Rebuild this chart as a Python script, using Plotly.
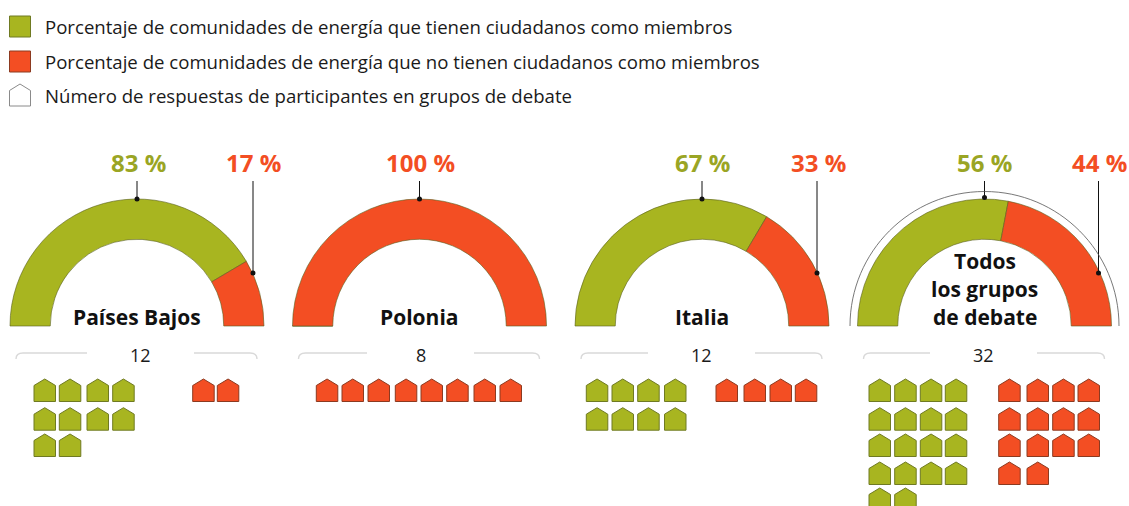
import plotly.graph_objects as go

W, H = 1129, 506
GREEN, RED = "#a8b520", "#f34e23"
GREEN_TEXT = "#9aa524"
GREEN_EDGE, RED_EDGE = "#6f7a22", "#8c3a20"

legend_labels = [
    "Porcentaje de comunidades de energía que tienen ciudadanos como miembros",
    "Porcentaje de comunidades de energía que no tienen ciudadanos como miembros",
    "Número de respuestas de participantes en grupos de debate",
]
groups = ["Países Bajos", "Polonia", "Italia", "Todos<br>los grupos<br>de debate"]
pct_with = [83, 0, 67, 56]
pct_without = [17, 100, 33, 44]
responses = [12, 8, 12, 32]
count_with = [10, 0, 8, 18]
count_without = [2, 8, 4, 14]

# layout only
centers = [137, 419.5, 702, 984.5]
CY, R, HOLE = 326, 127, 0.683
green_cols = [[34, 59.3, 87, 112.7], [], [586.3, 612, 637.7, 664.5], [869, 894.7, 920.3, 945.3]]
red_cols = [[192.7, 217.3], [316.3, 342, 368, 395.3, 421, 446.7, 474, 500], [716, 744, 770, 795.3],
            [998.7, 1027, 1052.7, 1078]]
row_tops = [379, 407.7, 434, 462, 488]
red_leader_x = [253, None, 817, 1098.5]
green_label_x = [138.5, None, 702, 984.5]
red_label_x = [253.5, 420.5, 818.5, 1099]
bracket_gap = [(-50, 57), (-52.5, 54.5), (-54, 53), (-54.5, 52.5)]
count_x = [140.5, 420.5, 701.5, 983.5]
FONT = "Open Sans"

fig = go.Figure()
shapes, annos = [], []


def house(x, top, w=21.5, h=22.5):
    s = 6.5
    return [x, x, x + w / 2, x + w, x + w, x, None], [top + h, top + s, top, top + s, top + h, top + h, None]


def add_houses(count, cols, color, edge):
    xs, ys = [], []
    for i in range(count):
        hx, hy = house(cols[i % len(cols)], row_tops[i // len(cols)])
        xs += hx
        ys += hy
    if xs:
        fig.add_trace(go.Scatter(x=xs, y=ys, mode="lines", fill="toself", fillcolor=color,
                                 line=dict(color=edge, width=1), hoverinfo="skip", showlegend=False))


def text(x, y, s, size, color="#1a1a1a", bold=False, anchor="center"):
    annos.append(dict(x=x, y=y, text=f"<b>{s}</b>" if bold else s, showarrow=False, xref="x", yref="y",
                      xanchor=anchor, yanchor="middle", align="center",
                      font=dict(family=FONT, size=size, color=color)))


def leader(x, y0, y1):
    shapes.append(dict(type="line", x0=x, x1=x, y0=y0, y1=y1, line=dict(color="#111", width=1)))
    shapes.append(dict(type="circle", x0=x - 2.5, x1=x + 2.5, y0=y1 - 2.5, y1=y1 + 2.5,
                       fillcolor="#111", line=dict(width=0)))


# Legend
for y, c, e in [(16, GREEN, GREEN_EDGE), (51, RED, RED_EDGE)]:
    shapes.append(dict(type="rect", x0=9.5, x1=30.5, y0=y, y1=y + 21, fillcolor=c, line=dict(color=e, width=1)))
hx, hy = house(9.5, 84, 21, 22)
fig.add_trace(go.Scatter(x=hx, y=hy, mode="lines", line=dict(color="#8a8a8a", width=1), fill="toself",
                         fillcolor="white", hoverinfo="skip", showlegend=False))
for y, s in zip([26.5, 61.5, 95], legend_labels):
    text(43, y, s, 18.6, anchor="left")

# Gauges
LEADER_TOP = 181
for i, cx in enumerate(centers):
    fig.add_trace(go.Pie(
        values=[pct_with[i], pct_without[i], 100],
        marker=dict(colors=[GREEN, RED, "rgba(0,0,0,0)"],
                    line=dict(color=["#59601f", "#59601f", "rgba(0,0,0,0)"], width=[0.6, 0.6, 0])),
        hole=HOLE, sort=False, direction="clockwise", rotation=270, textinfo="none", hoverinfo="skip",
        showlegend=False,
        domain=dict(x=[(cx - R) / W, (cx + R) / W], y=[1 - (CY + R) / H, 1 - (CY - R) / H]),
    ))
    add_houses(count_with[i], green_cols[i] or [0], GREEN, GREEN_EDGE)
    add_houses(count_without[i], red_cols[i], RED, RED_EDGE)

    top_dot = CY - R - (1.5 if i == 3 else 0)
    leader(cx, LEADER_TOP, top_dot)
    if pct_with[i]:
        text(green_label_x[i], 162, f"{pct_with[i]} %", 24, GREEN_TEXT, True)
        leader(red_leader_x[i], LEADER_TOP, 273)
    text(red_label_x[i], 162, f"{pct_without[i]} %", 24, RED, True)

    # Bracket
    a, b = cx - 121, cx + 120
    g0, g1 = bracket_gap[i]
    shapes.append(dict(type="path", path=f"M{a},359 Q{a},353 {a+7},353 L{cx+g0},353",
                       line=dict(color="#d9d9d9", width=1.4)))
    shapes.append(dict(type="path", path=f"M{b},359 Q{b},353 {b-7},353 L{cx+g1},353",
                       line=dict(color="#d9d9d9", width=1.4)))
    text(count_x[i], 354.5, str(responses[i]), 18)

# Group names
for i in range(3):
    text(centers[i], 317, groups[i], 21, "#111", True)
for y, s in zip([261, 289, 317], groups[3].split("<br>")):
    text(centers[3], y, s, 21, "#111", True)

# Outer arc on the overall gauge
cx3, r3 = centers[3], 134.5
k = 0.5523 * r3
shapes.append(dict(type="path",
                   path=f"M{cx3-r3},{CY} C{cx3-r3},{CY-k} {cx3-k},{CY-r3} {cx3},{CY-r3} "
                        f"C{cx3+k},{CY-r3} {cx3+r3},{CY-k} {cx3+r3},{CY}",
                   line=dict(color="#555", width=0.8)))

fig.update_layout(
    width=W, height=H, margin=dict(l=0, r=0, t=0, b=0), paper_bgcolor="white", plot_bgcolor="white",
    xaxis=dict(range=[0, W], visible=False, fixedrange=True),
    yaxis=dict(range=[H, 0], visible=False, fixedrange=True),
    shapes=shapes, annotations=annos, showlegend=False,
)
fig.write_html("out.html", config={"displayModeBar": False},
               post_script="document.body.style.margin='0';document.body.style.overflow='hidden';")
